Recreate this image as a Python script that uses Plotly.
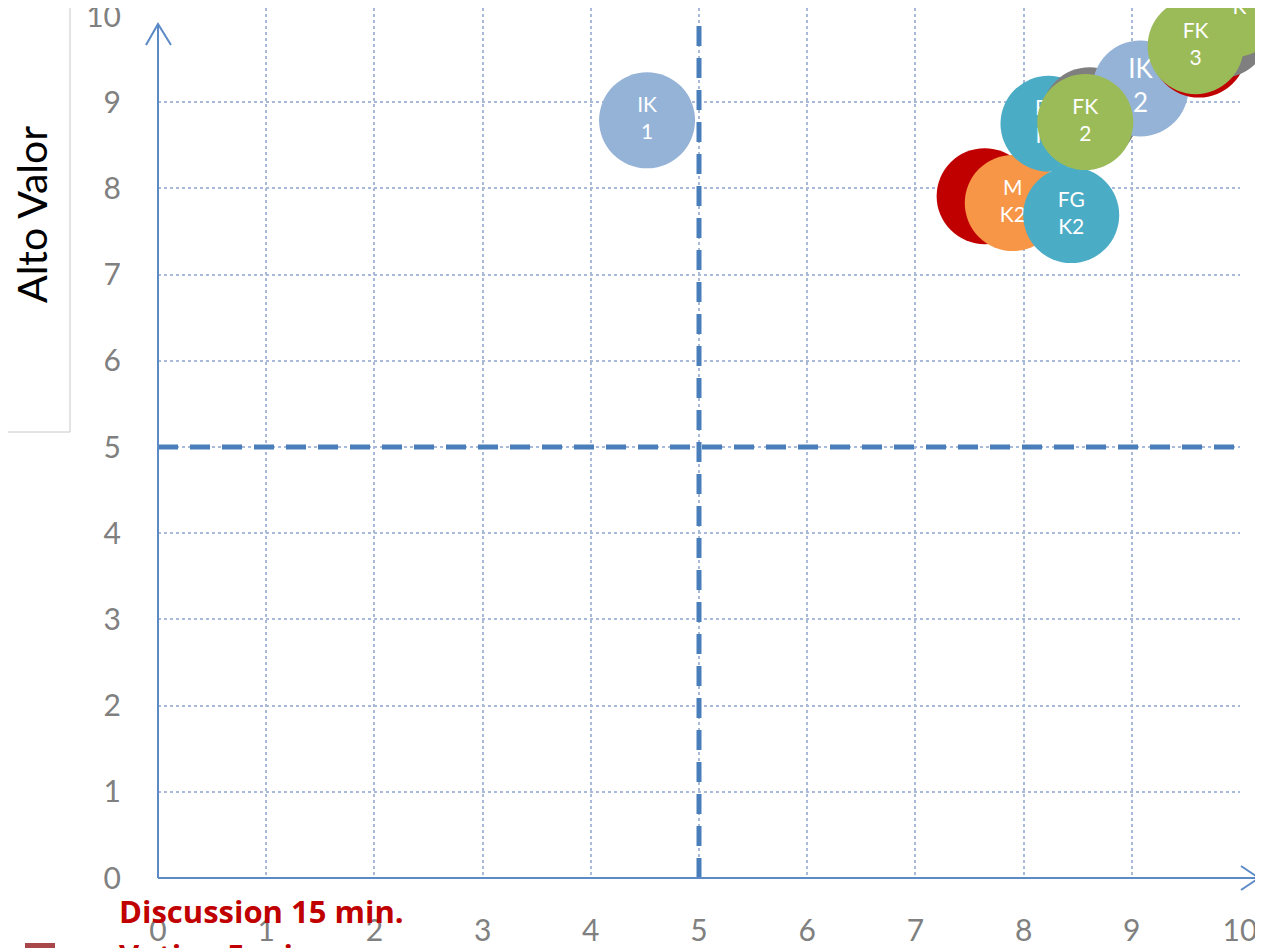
"""Matriz valor / esfuerzo: burbujas de las ideas sobre la cuadricula 0-10"""

import plotly.graph_objects as go

# datos (orden = orden de dibujo)
labels = ["IK<br>1", "M<br>K1", "M<br>K2", "FG<br>K1", "FG<br>K2", "", "IK<br>2", "FK<br>2", "", "", "FK", "FK<br>3"]
x_vals = [4.52, 7.64, 7.90, 8.23, 8.44, 8.61, 9.08, 8.57, 9.62, 9.83, 9.94, 9.59]
y_vals = [8.79, 7.91, 7.83, 8.75, 7.69, 8.85, 9.16, 8.77, 9.61, 9.84, 10.08, 9.65]
groups = ["IK", "M1", "M2", "FG", "FG", "GR", "IK", "FK", "M1", "GR", "FK", "FK"]

x_ticks = list(range(0, 11))
y_ticks = list(range(0, 11))
y_grid = list(range(1, 10))

colors = {
    "IK": "#95b3d7",
    "M1": "#c00000",
    "M2": "#f79646",
    "FG": "#4bacc6",
    "GR": "#7f7f7f",
    "FK": "#9bbb59",
}
label_size = {"IK<br>2": 26}

# la pagina html deja 8px de margen en el body
OFF = 8
W, H = 1263 - OFF, 948 - OFF
L, R, T, B = 158 - OFF, 23, 0, 70
PW, PH = W - L - R, H - T - B
Y_TOP = PH / 86.2  # ~86 px por unidad en y, el area llega hasta el borde superior


def px(x):
    # pixel de la captura -> paper x
    return (x - OFF - L) / PW


def py(y):
    # pixel de la captura -> paper y
    return (H - B - (y - OFF)) / PH


fig = go.Figure()

for lab, x, y, g in zip(labels, x_vals, y_vals, groups):
    fig.add_trace(
        go.Scatter(
            x=[x],
            y=[y],
            mode="markers+text",
            text=[lab],
            textposition="middle center",
            textfont=dict(family="Lato, Open Sans", size=label_size.get(lab, 21), color="white"),
            marker=dict(size=96, color=colors[g], line=dict(width=0), opacity=1),
            cliponaxis=False,
            showlegend=False,
            hoverinfo="skip",
        )
    )

axis_blue = "#5b8ac6"
grid_color = "#a9b9d8"
shapes = []

# lineas de cuadrante (5, 5)
shapes.append(dict(type="line", xref="x", yref="y", x0=5, x1=5, y0=0, y1=9.98,
                   line=dict(color="#4a7ebb", width=5, dash="20px,12px"), layer="above"))
shapes.append(dict(type="line", xref="x", yref="y", x0=0, x1=10, y0=5, y1=5,
                   line=dict(color="#4a7ebb", width=5, dash="20px,12px"), layer="above"))

# ejes con flechas
shapes.append(dict(type="line", xref="paper", yref="paper", x0=px(158), x1=px(158), y0=py(878), y1=py(25),
                   line=dict(color=axis_blue, width=2)))
shapes.append(dict(type="path", xref="paper", yref="paper",
                   path=f"M {px(146)},{py(45)} L {px(158)},{py(24)} L {px(171)},{py(45)}",
                   line=dict(color=axis_blue, width=2)))
shapes.append(dict(type="line", xref="paper", yref="paper", x0=px(158), x1=px(1258), y0=py(878), y1=py(878),
                   line=dict(color=axis_blue, width=2)))
shapes.append(dict(type="path", xref="paper", yref="paper",
                   path=f"M {px(1241)},{py(866)} L {px(1259)},{py(878)} L {px(1241)},{py(890)}",
                   line=dict(color=axis_blue, width=2)))

# panel izquierdo
shapes.append(dict(type="rect", xref="paper", yref="paper", x0=px(-5), x1=px(70), y0=py(432), y1=py(-5),
                   line=dict(color="#c8c8c8", width=1), fillcolor="white", layer="below"))

# vineta
shapes.append(dict(type="rect", xref="paper", yref="paper", x0=px(25), x1=px(55), y0=py(970), y1=py(943),
                   line=dict(width=0), fillcolor="#a84848"))

annotations = [
    dict(text="Alto Valor", xref="paper", yref="paper", x=px(31), y=py(215), textangle=-90,
         showarrow=False, font=dict(family="Lato, Open Sans", size=41, color="black"),
         xanchor="center", yanchor="middle"),
    dict(text="<b>Discussion 15 min.</b>", xref="paper", yref="paper", x=px(117), y=py(911),
         showarrow=False, font=dict(family="Open Sans", size=31, color="#c00000"),
         xanchor="left", yanchor="middle"),
    dict(text="<b>Voting 5 min.</b>", xref="paper", yref="paper", x=px(117), y=py(932),
         showarrow=False, font=dict(family="Open Sans", size=31, color="#c00000"),
         xanchor="left", yanchor="top"),
]

common = dict(zeroline=False, showline=False, ticks="", automargin=False,
              ticklabeloverflow="allow",
              tickfont=dict(family="Lato, Open Sans", size=30, color="#808080"))

fig.update_layout(
    width=W,
    height=H,
    margin=dict(l=L, r=R, t=T, b=B, autoexpand=False),
    paper_bgcolor="white",
    plot_bgcolor="white",
    shapes=shapes,
    annotations=annotations,
    xaxis=dict(range=[0, 10], tickvals=x_ticks, ticklabelstandoff=32,
               showgrid=True, gridcolor=grid_color, griddash="dot", gridwidth=1.5, **common),
    yaxis=dict(range=[0, Y_TOP], tickvals=y_ticks, ticklabelstandoff=36, showgrid=False,
               minor=dict(tickvals=y_grid, showgrid=True, gridcolor=grid_color,
                          griddash="dot", gridwidth=1.5, ticks=""),
               **common),
)

fig.write_html("out.html")
